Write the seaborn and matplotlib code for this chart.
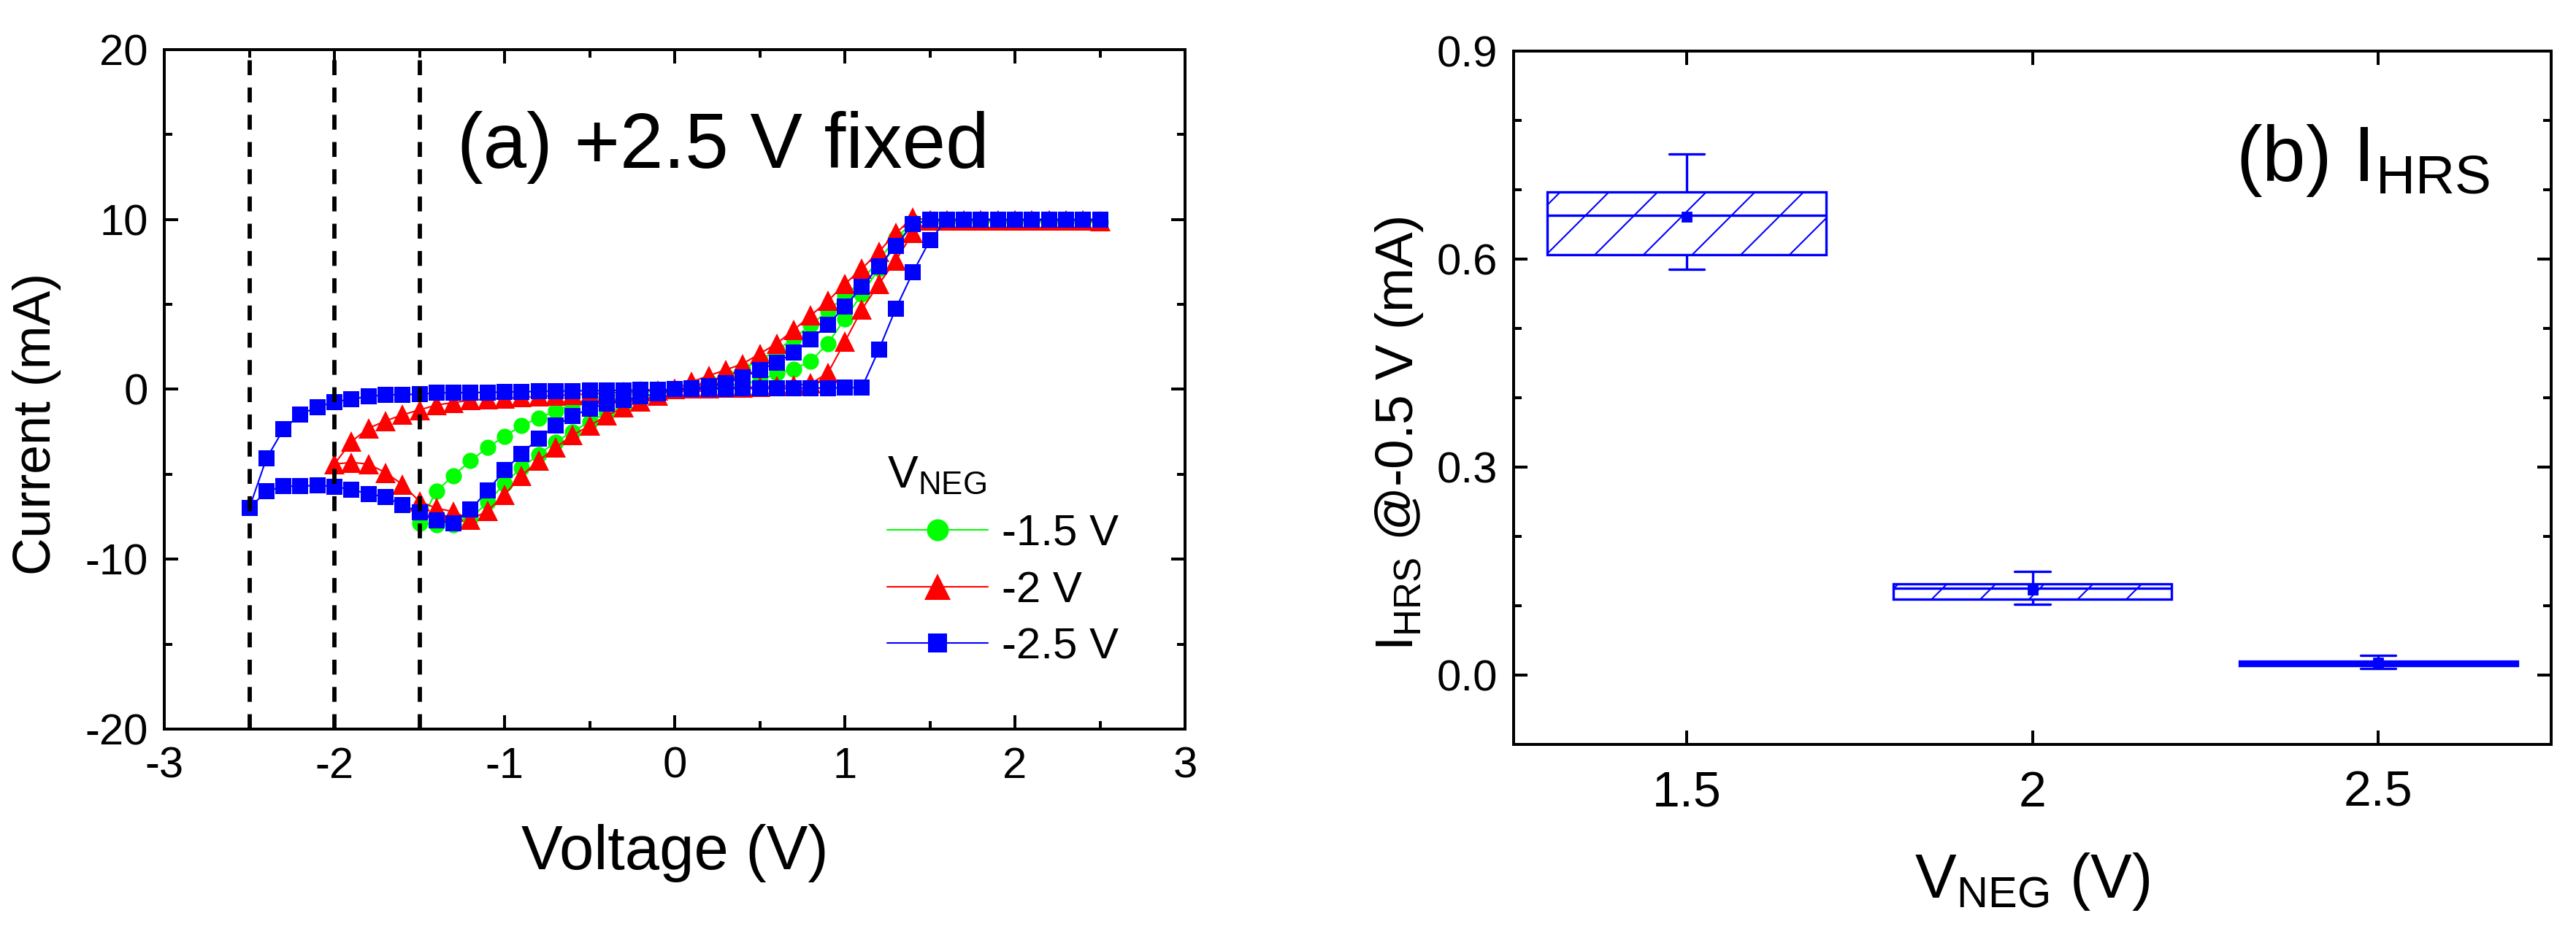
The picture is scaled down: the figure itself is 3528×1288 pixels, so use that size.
import matplotlib
matplotlib.use("Agg")
import matplotlib.pyplot as plt
from matplotlib.ticker import MultipleLocator, FormatStrFormatter
import numpy as np
import pandas as pd
import seaborn as sns

# ---------------- data : panel (a) I-V sweeps ----------------
# positive sweep voltages (V)
V_POS = [0.0, 0.1, 0.2, 0.3, 0.4, 0.5, 0.6, 0.7, 0.8, 0.9, 1.0, 1.1, 1.2,
         1.3, 1.4, 1.5, 1.6, 1.7, 1.8, 1.9, 2.0, 2.1, 2.2, 2.3, 2.4, 2.5]
# negative sweep voltages (V)
V_NEG = [-0.1, -0.2, -0.3, -0.4, -0.5, -0.6, -0.7, -0.8, -0.9, -1.0, -1.1,
         -1.2, -1.3, -1.4, -1.5, -1.6, -1.7, -1.8, -1.9, -2.0, -2.1, -2.2,
         -2.3, -2.4, -2.5]

SERIES = ["-1.5 V", "-2 V", "-2.5 V"]
NEG_STOP = [-1.5, -2.0, -2.5]          # V_NEG end points (dashed lines)

# V_NEG = -1.5 V (current in mA)
G_SET = [0.0, 0.05, 0.1, 0.2, 0.35, 0.5, 0.95, 1.2, 1.65, 2.7, 4.15, 5.6, 7.1,
         8.5, 9.8, 9.85, 9.85, 9.85, 9.85, 9.85, 9.85, 9.85, 9.85, 9.85, 9.85, 9.85]
G_RET = [0.0, 0.2, 0.45, 0.8, 1.2, 1.7, 2.3, 3.0, 3.8, 4.6, 5.5, 6.4, 7.6,
         8.9, 9.85, 9.85, 9.85, 9.85, 9.85, 9.85, 9.85, 9.85, 9.85, 9.85, 9.85, 9.85]
G_NEG_LRS = [-0.3, -0.6, -0.95, -1.4, -1.9, -2.5, -3.1, -3.85, -4.6, -5.55,
             -6.65, -7.6, -7.95, -7.95, -7.9]
G_NEG_RET = [-0.09, -0.18, -0.28, -0.4, -0.57, -0.85, -1.28, -1.68, -2.14,
             -2.76, -3.43, -4.2, -5.08, -5.98, -7.9]

# V_NEG = -2 V
R_SET = [0.0, 0.05, 0.08, 0.1, 0.12, 0.15, 0.18, 0.22, 0.35, 0.95, 2.8, 4.7, 6.2,
         7.6, 9.2, 9.95, 9.95, 9.95, 9.95, 9.95, 9.95, 9.95, 9.95, 9.95, 9.95, 9.9]
R_RET = [0.0, 0.45, 0.8, 1.15, 1.5, 2.1, 2.7, 3.5, 4.35, 5.2, 6.2, 7.1, 8.1,
         9.2, 10.1, 9.95, 9.95, 9.95, 9.95, 9.95, 9.95, 9.95, 9.95, 9.95, 9.95, 9.9]
R_NEG_LRS = [-0.35, -0.7, -1.07, -1.54, -2.14, -2.7, -3.43, -4.2, -5.08, -6.2,
             -7.16, -7.66, -7.2, -7.0, -6.6, -5.6, -4.9, -4.4, -4.3, -4.4]
R_NEG_RET = [-0.05, -0.11, -0.17, -0.22, -0.27, -0.32, -0.37, -0.42, -0.47,
             -0.52, -0.58, -0.64, -0.78, -0.92, -1.21, -1.5, -1.86, -2.29,
             -3.07, -4.4]

# V_NEG = -2.5 V
B_SET = [0.0, 0.02, 0.03, 0.04, 0.05, 0.05, 0.06, 0.07, 0.08, 0.08, 0.1, 0.1,
         2.33, 4.76, 6.88, 8.77, 10.0, 10.0, 10.0, 10.0, 10.0, 10.0, 10.0, 10.0,
         10.0, 10.0]
B_RET = [0.0, 0.08, 0.18, 0.37, 0.72, 1.15, 1.58, 2.16, 2.95, 3.8, 4.88, 6.02,
         7.24, 8.46, 9.72, 10.0, 10.0, 10.0, 10.0, 10.0, 10.0, 10.0, 10.0, 10.0,
         10.0, 10.0]
B_NEG_LRS = [-0.25, -0.42, -0.64, -0.82, -1.14, -1.57, -2.14, -2.89, -3.79,
             -4.76, -5.97, -7.08, -7.9, -7.73, -7.23, -6.8, -6.34, -6.15, -5.9,
             -5.72, -5.65, -5.7, -5.7, -6.01, -6.98]
B_NEG_RET = [-0.02, -0.04, -0.05, -0.07, -0.08, -0.09, -0.1, -0.12, -0.14,
             -0.16, -0.18, -0.19, -0.2, -0.21, -0.28, -0.31, -0.32, -0.42,
             -0.57, -0.74, -1.04, -1.47, -2.36, -4.08, -6.98]

# ---------------- data : panel (b) I_HRS statistics ----------------
BOX_CATS = ["1.5", "2", "2.5"]
I_HRS_15 = [0.585, 0.606, 0.663, 0.697, 0.752]
I_HRS_20 = [0.102, 0.110, 0.125, 0.132, 0.149]
I_HRS_25 = [0.009, 0.014, 0.017, 0.020, 0.028]

# ---------------- style ----------------
sns.set_theme(style="ticks")
plt.rcParams.update({
    "font.family": ["Liberation Sans", "DejaVu Sans"],
    "mathtext.fontset": "custom",
    "mathtext.rm": "Liberation Sans",
    "mathtext.it": "Liberation Sans:italic",
    "mathtext.bf": "Liberation Sans:bold",
    "mathtext.default": "regular",
    "axes.unicode_minus": False,
    "axes.edgecolor": "black",
    "axes.linewidth": 1.44,
    "text.color": "black",
    "axes.labelcolor": "black",
    "xtick.color": "black",
    "ytick.color": "black",
    "hatch.linewidth": 0.75,
    "hatch.color": "blue",
})

DPI = 200
fig = plt.figure(figsize=(3528 / DPI, 1288 / DPI), dpi=DPI)
ax1 = fig.add_axes([0.06378, 0.22438, 0.39626, 0.72283])
ax2 = fig.add_axes([0.58759, 0.20807, 0.40278, 0.73758])


def sweep(i_set, i_ret, v_neg, i_neg_lrs, i_neg_ret):
    v = V_POS + V_POS[-2::-1] + v_neg + v_neg[-2::-1] + [0.0]
    i = i_set + i_ret[-2::-1] + i_neg_lrs + i_neg_ret[-2::-1] + [0.0]
    return pd.DataFrame({"Voltage": v, "Current": i})


curves = [
    (SERIES[0], sweep(G_SET, G_RET, V_NEG[:15], G_NEG_LRS, G_NEG_RET), "#00FF00", "o", 8.0, 10.8),
    (SERIES[1], sweep(R_SET, R_RET, V_NEG[:20], R_NEG_LRS, R_NEG_RET), "#FF0000", "^", 10.0, 13.0),
    (SERIES[2], sweep(B_SET, B_RET, V_NEG[:25], B_NEG_LRS, B_NEG_RET), "#0000FF", "s", 7.6, 9.4),
]

for k, (name, df, col, mk, ms, _) in enumerate(curves):
    sns.lineplot(data=df, x="Voltage", y="Current", sort=False, estimator=None,
                 color=col, marker=mk, markersize=ms, markeredgewidth=0,
                 markeredgecolor=col, linewidth=0.75, label=name, ax=ax1,
                 zorder=2 + k)

for xv in NEG_STOP:
    ax1.axvline(xv, color="black", lw=2.1, dashes=(3.5, 2.9), zorder=6)

ax1.set_xlim(-3, 3)
ax1.set_ylim(-20, 20)
ax1.xaxis.set_major_locator(MultipleLocator(1))
ax1.xaxis.set_minor_locator(MultipleLocator(0.5))
ax1.yaxis.set_major_locator(MultipleLocator(10))
ax1.yaxis.set_minor_locator(MultipleLocator(5))
ax1.tick_params(which="both", direction="in", top=True, right=True, width=1.44)
ax1.tick_params(which="major", length=6.8)
ax1.tick_params(which="minor", length=4.0)
ax1.tick_params(axis="x", labelsize=21.5, pad=8.6)
ax1.tick_params(axis="y", labelsize=21.5, pad=7.9)

ax1.set_xlabel("Voltage (V)", fontsize=30.6)
ax1.set_ylabel("Current (mA)", fontsize=25.8)
ax1.xaxis.set_label_coords(0.5, -0.1396)
ax1.yaxis.set_label_coords(-0.1006, 0.449)

ax1.text(-1.279, 13.05, "(a) +2.5 V fixed", fontsize=38.5, va="baseline", ha="left")

leg = ax1.legend(title=r"V$_{NEG}$", loc="upper left", bbox_to_anchor=(0.708, 0.405),
                 frameon=False, fontsize=21.6, title_fontsize=22.5,
                 handlelength=2.3, handletextpad=0.32, labelspacing=0.38,
                 borderpad=0, borderaxespad=0, alignment="left")
for h, c in zip(leg.legend_handles, curves):
    h.set_markersize(c[5])

# ---------------- panel (b) ----------------
df2 = pd.DataFrame({
    "VNEG": [BOX_CATS[0]] * len(I_HRS_15) + [BOX_CATS[1]] * len(I_HRS_20)
            + [BOX_CATS[2]] * len(I_HRS_25),
    "IHRS": I_HRS_15 + I_HRS_20 + I_HRS_25,
})
sns.boxplot(data=df2, x="VNEG", y="IHRS", order=BOX_CATS, width=0.805,
            whis=(0, 100), showmeans=True, color="white", linecolor="blue",
            linewidth=1.2, capwidths=0.102, boxprops=dict(hatch="/"),
            meanprops=dict(marker="s", markerfacecolor="blue",
                           markeredgecolor="blue", markersize=4),
            ax=ax2)

ax2.set_xlim(-0.5, 2.5)
ax2.set_ylim(-0.1, 0.9)
ax2.yaxis.set_major_locator(MultipleLocator(0.3))
ax2.yaxis.set_minor_locator(MultipleLocator(0.1))
ax2.yaxis.set_major_formatter(FormatStrFormatter("%.1f"))
ax2.tick_params(which="both", direction="in", top=True, right=True, width=1.44)
ax2.tick_params(which="major", length=6.8)
ax2.tick_params(which="minor", length=4.0)
ax2.tick_params(axis="x", labelsize=24.5, pad=12.5)
ax2.tick_params(axis="y", labelsize=21.5, pad=7.9)

ax2.set_xlabel(r"V$_{NEG}$ (V)", fontsize=30.6)
ax2.set_ylabel(r"I$_{HRS}$ @-0.5 V (mA)", fontsize=26.3)
ax2.xaxis.set_label_coords(0.5, -0.1537)
ax2.yaxis.set_label_coords(-0.0851, 0.448)

ax2.text(1.587, 0.7128, r"(b) I$_{HRS}$", fontsize=38.5, va="baseline", ha="left")

fig.savefig("out.png", dpi=DPI, facecolor="white")
